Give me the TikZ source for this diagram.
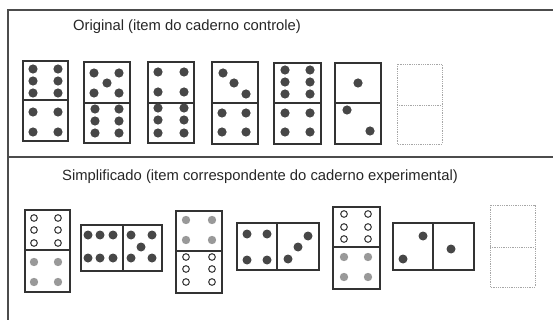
\documentclass[tikz,border=0pt]{standalone}
\usepackage{fontspec}
\setmainfont{Liberation Sans}
\tikzset{
  peca/.style={draw=black!80,line width=1.3pt},
  vazia/.style={draw=black!35,densely dotted,line width=0.8pt},
  cheio/.style={fill=black!72},
  cinza/.style={fill=black!40},
  oco/.style={draw=black!75,line width=1.1pt},
  titulo/.style={text=black!85,font=\fontsize{14.8}{17}\selectfont}
}
\begin{document}
\begin{tikzpicture}[x=1pt,y=-1pt]
  \useasboundingbox (0,0) rectangle (553,320);
  % moldura
  \draw[line width=1.5pt,black!70] (553,10) -- (8,10) -- (8,320);
  \draw[line width=1.5pt,black!70] (8,157) -- (553,157);

  % titulos
  \node[titulo] (original) at (187,27) {Original (item do caderno controle)};
  \node[titulo] (simples) at (260,177) {Simplificado (item correspondente do caderno experimental)};

  % pecas originais
  \draw[peca] (23,61) rectangle (68,141) (23,100) -- (68,100);
  \draw[peca] (84,62) rectangle (130,143) (84,103) -- (130,103);
  \draw[peca] (148,62) rectangle (194,143) (148,103) -- (194,103);
  \draw[peca] (212,62) rectangle (258,144) (212,103) -- (258,103);
  \draw[peca] (274,63) rectangle (321,144) (274,103) -- (321,103);
  \draw[peca] (335,63) rectangle (381,144) (335,103) -- (381,103);
  \draw[vazia] (397,64) rectangle (442,144) (397,105) -- (442,105);

  % pontos das pecas originais
  \foreach \x in {33,58}
  {
    \foreach \y in {69,81,93} \fill[cheio] (\x,\y) circle (4.6);
    \foreach \y in {112,132} \fill[cheio] (\x,\y) circle (4.6);
  }
  \foreach \p in {(94,73),(119,73),(107,83),(94,93),(119,93)}
    \fill[cheio] \p circle (4.6);
  \foreach \x in {95,119}
    \foreach \y in {109,121,133} \fill[cheio] (\x,\y) circle (4.6);
  \foreach \x in {158,184}
  {
    \foreach \y in {72,92} \fill[cheio] (\x,\y) circle (4.6);
    \foreach \y in {108,120,133} \fill[cheio] (\x,\y) circle (4.6);
  }
  \foreach \p in {(223,73),(234,83),(246,94)}
    \fill[cheio] \p circle (4.6);
  \foreach \x in {222,246}
    \foreach \y in {113,132} \fill[cheio] (\x,\y) circle (4.6);
  \foreach \x in {285,310}
  {
    \foreach \y in {70,82,94} \fill[cheio] (\x,\y) circle (4.6);
    \foreach \y in {113,132} \fill[cheio] (\x,\y) circle (4.6);
  }
  \foreach \p in {(358,83),(347,110),(370,131)}
    \fill[cheio] \p circle (4.6);

  % pecas simplificadas
  \draw[peca] (25,210) rectangle (70,292) (25,250) -- (70,250);
  \draw[peca] (81,225) rectangle (162,271) (123,225) -- (123,271);
  \draw[peca] (176,211) rectangle (222,293) (176,251) -- (222,251);
  \draw[peca] (237,223) rectangle (319,270) (277,223) -- (277,270);
  \draw[peca] (333,207) rectangle (380,289) (333,247) -- (380,247);
  \draw[peca] (393,223) rectangle (474,270) (433,223) -- (433,270);
  \draw[vazia] (490,205) rectangle (535,287) (490,247) -- (535,247);

  % pontos das pecas simplificadas
  \foreach \x in {34,58}
  {
    \foreach \y in {218,230,243} \draw[oco] (\x,\y) circle (3.3);
    \foreach \y in {262,282} \fill[cinza] (\x,\y) circle (4.2);
  }
  \foreach \x in {88,100,113}
    \foreach \y in {235,258} \fill[cheio] (\x,\y) circle (4.5);
  \foreach \p in {(131,235),(152,235),(141,247),(131,258),(152,258)}
    \fill[cheio] \p circle (4.5);
  \foreach \x in {186,212}
  {
    \foreach \y in {220,240} \fill[cinza] (\x,\y) circle (4.2);
    \foreach \y in {257,269,282} \draw[oco] (\x,\y) circle (3.3);
  }
  \foreach \x in {247,267}
    \foreach \y in {234,260} \fill[cheio] (\x,\y) circle (4.5);
  \foreach \p in {(288,259),(298,247),(308,236)}
    \fill[cheio] \p circle (4.5);
  \foreach \x in {344,368}
  {
    \foreach \y in {214,227,239} \draw[oco] (\x,\y) circle (3.3);
    \foreach \y in {257,277} \fill[cinza] (\x,\y) circle (4.2);
  }
  \foreach \p in {(403,259),(423,236),(451,249)}
    \fill[cheio] \p circle (4.5);
\end{tikzpicture}
\end{document}
